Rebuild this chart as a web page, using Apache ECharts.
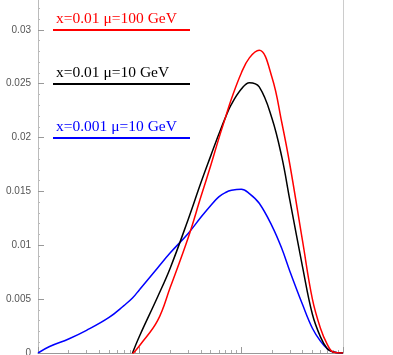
<!DOCTYPE html>
<html>
<head>
<meta charset="utf-8">
<script src="https://cdn.jsdelivr.net/npm/echarts@6/dist/echarts.min.js"></script>
<style>
  html, body { margin: 0; padding: 0; background: #fff; }
  #chart { width: 393px; height: 355px; }
</style>
</head>
<body>
<div id="chart"></div>
<script>
// shared x grid (log axis)
const xVals = [0.01, 0.013, 0.02, 0.03, 0.05, 0.07, 0.085, 0.1, 0.15, 0.2, 0.3, 0.4, 0.5, 0.6, 0.7, 0.8, 1, 1.2, 1.5, 2, 2.5, 3, 4, 5, 6, 7, 8, 10];

const redVals = [null, null, null, null, null, null, -0.0001, 0.0007, 0.0030, 0.0061, 0.0107, 0.0145, 0.0174, 0.0199, 0.0219, 0.0236, 0.0260, 0.0274, 0.0281, 0.0256, 0.0214, 0.0175, 0.0104, 0.0050, 0.0023, 0.0008, 0.0001, 0];
const blackVals = [null, null, null, null, null, null, 0, 0.0016, 0.0052, 0.0079, 0.0124, 0.0158, 0.0183, 0.0203, 0.0219, 0.0231, 0.0245, 0.0251, 0.0247, 0.0218, 0.0182, 0.0142, 0.0080, 0.0036, 0.0015, 0.0004, 0.0001, 0];
const blueVals = [0, 0.0006, 0.0013, 0.0021, 0.0033, 0.0044, 0.0051, 0.0059, 0.0079, 0.0093, 0.0111, 0.0126, 0.0137, 0.0145, 0.0149, 0.0151, 0.0152, 0.0148, 0.0139, 0.0118, 0.0097, 0.0076, 0.0045, 0.0023, 0.0011, 0.0004, 0.0001, 0];

const seriesNames = ['x=0.01 \u03bc=100 GeV', 'x=0.01 \u03bc=10 GeV', 'x=0.001 \u03bc=10 GeV'];
const seriesColors = ['#ff0000', '#000000', '#0000ff'];

const majorTicks = [0.01, 0.1, 1, 10];
const minorTicks = [0.02, 0.03, 0.04, 0.05, 0.06, 0.07, 0.08, 0.09, 0.2, 0.3, 0.4, 0.5, 0.6, 0.7, 0.8, 0.9, 2, 3, 4, 5, 6, 7, 8, 9];

const chart = echarts.init(document.getElementById('chart'), null, { renderer: 'canvas' });

const allVals = [redVals, blackVals, blueVals];
const series = allVals.map((vals, i) => ({
  name: seriesNames[i],
  type: 'line',
  data: xVals.map((x, j) => [x, vals[j]]),
  smooth: 0.4,
  showSymbol: false,
  clip: true,
  lineStyle: { color: seriesColors[i], width: 1.5 },
  itemStyle: { color: seriesColors[i] },
  z: 3 - i
}));

// legend: name with a coloured underline
const legendLineY = [30, 84, 138];
const graphic = [];
seriesNames.forEach((name, i) => {
  graphic.push({
    type: 'text',
    left: 56,
    top: legendLineY[i] - 19,
    style: {
      text: name,
      fill: seriesColors[i],
      font: '15.5px "Liberation Serif", "DejaVu Serif", serif'
    }
  });
  graphic.push({
    type: 'line',
    shape: { x1: 53, y1: legendLineY[i], x2: 190, y2: legendLineY[i] },
    style: { stroke: seriesColors[i], lineWidth: 2 }
  });
});

const xBase = {
  type: 'log',
  logBase: 10,
  min: 0.01,
  max: 10,
  gridIndex: 0,
  splitLine: { show: false },
  axisLabel: { show: false },
  minorTick: { show: false }
};

chart.setOption({
  animation: false,
  backgroundColor: '#fff',
  grid: { left: 38, right: 50, top: -24, bottom: 2, outerBoundsMode: 'none', containLabel: false },
  xAxis: [
    Object.assign({}, xBase, {
      axisLine: { show: true, lineStyle: { color: '#999', width: 1 } },
      axisTick: { show: true, inside: true, length: 6, customValues: majorTicks, lineStyle: { color: '#999' } }
    }),
    Object.assign({}, xBase, {
      position: 'bottom',
      axisLine: { show: false },
      axisTick: { show: true, inside: true, length: 3, customValues: minorTicks, lineStyle: { color: '#aaa' } }
    })
  ],
  yAxis: [
    {
      type: 'value',
      min: 0,
      max: 0.035,
      interval: 0.005,
      axisLine: { show: true, lineStyle: { color: '#bbb' } },
      axisTick: { show: true, inside: true, length: 6, lineStyle: { color: '#999' } },
      minorTick: { show: true, splitNumber: 5, length: 2, lineStyle: { color: '#bbb' } },
      splitLine: { show: false },
      axisLabel: {
        margin: 7,
        color: '#555',
        fontSize: 10,
        fontFamily: '"Liberation Sans", Arial, sans-serif'
      }
    },
    {
      type: 'value',
      position: 'right',
      min: 0,
      max: 0.035,
      axisLine: { show: true, lineStyle: { color: '#ccc' } },
      axisTick: { show: false },
      axisLabel: { show: false },
      splitLine: { show: false }
    }
  ],
  series: series,
  graphic: graphic
});
</script>
</body>
</html>
